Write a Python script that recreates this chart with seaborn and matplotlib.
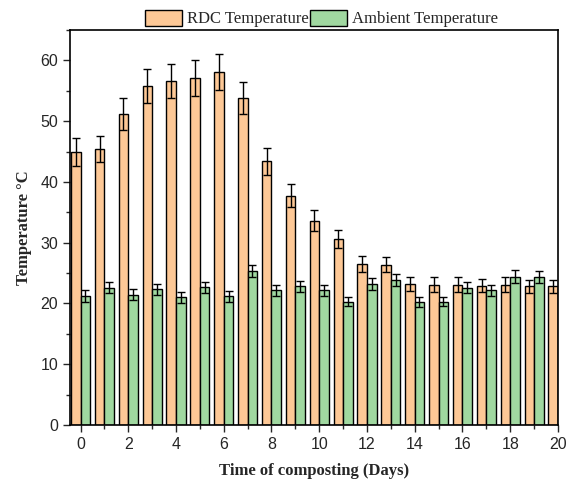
import numpy as np
import pandas as pd
import seaborn as sns
import matplotlib.pyplot as plt
from matplotlib.patches import Patch
from matplotlib.ticker import MultipleLocator

sns.set_style("white")

# Data
days = list(range(21))
rdc_temp = [44.9, 45.4, 51.2, 55.8, 56.6, 57.1, 58.1, 53.8, 43.4, 37.7, 33.6,
            30.6, 26.5, 26.4, 23.2, 23.1, 23.1, 22.95, 23.1, 22.8, 22.8]
rdc_err = [2.3, 2.2, 2.6, 2.8, 2.8, 2.9, 3.0, 2.7, 2.2, 1.9, 1.7,
           1.5, 1.3, 1.3, 1.2, 1.2, 1.2, 1.1, 1.2, 1.1, 1.1]
amb_temp = [21.25, 22.6, 21.4, 22.3, 21.0, 22.7, 21.2, 25.3, 22.2, 22.8, 22.2,
            20.3, 23.2, 23.9, 20.2, 20.3, 22.6, 22.2, 24.4, 24.3, 22.5]
amb_err = [0.95, 0.9, 0.9, 0.9, 0.9, 0.9, 0.9, 1.0, 0.9, 0.9, 0.9,
           0.8, 1.0, 1.0, 0.8, 0.8, 0.9, 0.9, 1.1, 1.0, 0.9]
series = ["RDC Temperature", "Ambient Temperature"]
colors = ["#FDC896", "#A0D8A0"]

df = pd.DataFrame({
    "day": days * 2,
    "temp": rdc_temp + amb_temp,
    "series": [series[0]] * len(days) + [series[1]] * len(days),
})

fig = plt.figure(figsize=(5.67, 4.91), dpi=100)
ax = fig.add_axes([0.1235, 0.1344, 0.8605, 0.8046])

sns.barplot(data=df, x="day", y="temp", hue="series", hue_order=series,
            palette=colors, native_scale=True, errorbar=None, saturation=1,
            edgecolor="black", linewidth=1.0, legend=False, ax=ax)

# error bars from the read-off deviations
for cont, err in zip(ax.containers, [rdc_err, amb_err]):
    xs = [p.get_x() + p.get_width() / 2 for p in cont.patches]
    ys = [p.get_height() for p in cont.patches]
    ax.errorbar(xs, ys, yerr=err, fmt="none", ecolor="black",
                elinewidth=1.0, capsize=2.7, capthick=1.0, zorder=5)

ax.set_xlim(-0.44, 20)
ax.set_ylim(0, 65)
ax.xaxis.set_major_locator(MultipleLocator(2))
ax.xaxis.set_minor_locator(MultipleLocator(1))
ax.yaxis.set_major_locator(MultipleLocator(10))
ax.yaxis.set_minor_locator(MultipleLocator(5))
ax.tick_params(which="both", direction="out", bottom=True, left=True,
               top=False, right=False, width=1.0)
ax.tick_params(which="major", length=5, labelsize=11.5)
ax.tick_params(which="minor", length=3)
for lab in ax.get_xticklabels() + ax.get_yticklabels():
    lab.set_family("Liberation Sans")
for sp in ax.spines.values():
    sp.set_visible(True)
    sp.set_color("black")
    sp.set_linewidth(1.2)

serif = "Liberation Serif"
ax.set_xlabel("Time of composting (Days)", family=serif, fontweight="bold",
              fontsize=12, labelpad=8)
ax.set_ylabel("Temperature °C", family=serif, fontweight="bold",
              fontsize=12, labelpad=6)

handles = [Patch(facecolor=c, edgecolor="black", linewidth=1.0) for c in colors]
ax.legend(handles, series, loc="lower center", bbox_to_anchor=(0.515, 1.0),
          ncol=2, frameon=False, prop={"family": serif, "size": 12},
          handlelength=2.2, handleheight=1.1, handletextpad=0.3,
          columnspacing=0.1, borderaxespad=0.05, borderpad=0.1)

fig.savefig("out.png", dpi=100)
